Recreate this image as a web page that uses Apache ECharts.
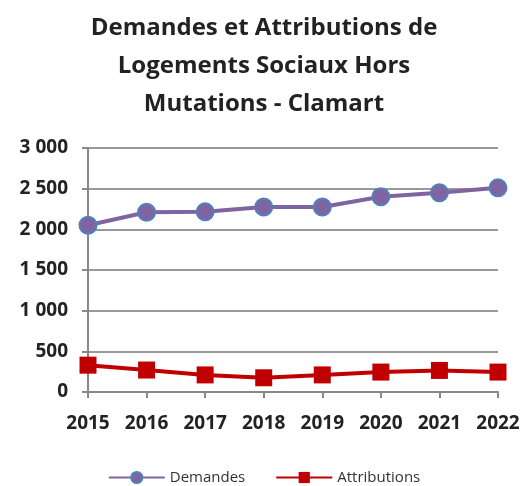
<!DOCTYPE html>
<html>
<head>
<meta charset="utf-8">
<script src="https://cdn.jsdelivr.net/npm/echarts@6/dist/echarts.min.js"></script>
<style>
  html, body { margin: 0; padding: 0; background: #fff; }
  #chart { width: 528px; height: 486px; }
</style>
</head>
<body>
<div id="chart"></div>
<script>
var years = ['2015', '2016', '2017', '2018', '2019', '2020', '2021', '2022'];
var demandes = [2050, 2210, 2215, 2275, 2275, 2400, 2450, 2510];
var attributions = [330, 270, 210, 175, 210, 245, 265, 245];
var yTicks = [0, 500, 1000, 1500, 2000, 2500, 3000];

var chart = echarts.init(document.getElementById('chart'));

// "3 000" style labels
function fmt(v) {
  return String(v).replace(/\B(?=(\d{3})+(?!\d))/g, ' ');
}

var option = {
  backgroundColor: '#fff',
  textStyle: { fontFamily: 'Open Sans' },
  title: {
    text: 'Demandes et Attributions de\nLogements Sociaux Hors\nMutations - Clamart',
    left: 'center',
    top: 4,
    textStyle: {
      fontSize: 24,
      fontWeight: 'bold',
      color: '#222',
      lineHeight: 38,
      fontFamily: 'Open Sans'
    }
  },
  legend: {
    top: 465,
    left: 'center',
    itemWidth: 56,
    itemHeight: 14,
    itemGap: 30,
    textStyle: { fontSize: 15, color: '#333' },
    data: ['Demandes', 'Attributions']
  },
  grid: { left: 88, right: 30, top: 148, bottom: 94 },
  xAxis: {
    type: 'category',
    data: years,
    boundaryGap: false,
    axisLine: { lineStyle: { color: '#888', width: 2 } },
    axisTick: { show: true, interval: 0, length: 6, lineStyle: { color: '#888', width: 2 } },
    axisLabel: { interval: 0, hideOverlap: false, fontSize: 19, fontWeight: 'bold', color: '#222', margin: 22 }
  },
  yAxis: {
    type: 'value',
    min: yTicks[0],
    max: yTicks[yTicks.length - 1],
    interval: 500,
    axisLine: { show: true, lineStyle: { color: '#888', width: 2 } },
    axisTick: { show: true, length: 6, lineStyle: { color: '#888', width: 2 } },
    splitLine: { lineStyle: { color: '#999', width: 2 } },
    axisLabel: { fontSize: 19, fontWeight: 'bold', color: '#222', margin: 20, formatter: fmt }
  },
  series: [
    {
      name: 'Demandes',
      type: 'line',
      data: demandes,
      symbol: 'circle',
      symbolSize: 17,
      lineStyle: { color: '#8064A2', width: 4 },
      itemStyle: { color: '#8064A2', borderColor: '#4F81BD', borderWidth: 2 }
    },
    {
      name: 'Attributions',
      type: 'line',
      data: attributions,
      symbol: 'rect',
      symbolSize: 17,
      lineStyle: { color: '#C00000', width: 4 },
      itemStyle: { color: '#C00000' }
    }
  ]
};

chart.setOption(option);
</script>
</body>
</html>
